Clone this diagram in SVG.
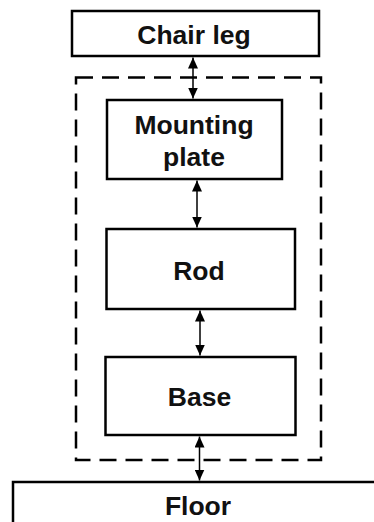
<svg xmlns="http://www.w3.org/2000/svg" width="374" height="522" viewBox="0 0 374 522">
  <style>
    .box { fill: #ffffff; stroke: #000000; stroke-width: 2.5; }
    .group { fill: none; stroke: #000000; stroke-width: 2.5; stroke-dasharray: 17 9; }
    .label { font-family: "Liberation Sans", Arial, sans-serif; font-weight: bold; font-size: 26.5px; fill: #111111; text-anchor: middle; }
    .link { stroke: #000000; stroke-width: 1.5; fill: none; marker-start: url(#head); marker-end: url(#head); }
  </style>
  <defs>
    <marker id="head" viewBox="0 0 11 10" refX="11" refY="5" markerWidth="11" markerHeight="10" markerUnits="userSpaceOnUse" orient="auto-start-reverse">
      <path d="M0,0 L11,5 L0,10 Z" fill="#000000"/>
    </marker>
  </defs>
  <rect width="374" height="522" fill="#ffffff"/>

  <!-- dashed enclosure around the assembly -->
  <rect id="assembly" class="group" x="76" y="77.5" width="245" height="382.5"/>

  <g id="chair-leg">
    <rect class="box" x="72" y="11" width="247" height="45"/>
    <text class="label" x="194" y="44">Chair leg</text>
  </g>

  <g id="mounting-plate">
    <rect class="box" x="107" y="100" width="175" height="79"/>
    <text class="label" x="194" y="134">Mounting</text>
    <text class="label" x="194" y="166">plate</text>
  </g>

  <g id="rod">
    <rect class="box" x="106.5" y="229" width="188.5" height="80"/>
    <text class="label" x="199" y="280">Rod</text>
  </g>

  <g id="base">
    <rect class="box" x="105.5" y="357" width="190" height="78"/>
    <text class="label" x="199.5" y="406">Base</text>
  </g>

  <g id="floor">
    <rect class="box" x="13" y="482" width="370" height="50"/>
    <text class="label" x="198" y="515">Floor</text>
  </g>

  <g id="connectors">
    <line class="link" x1="193" y1="57.5" x2="193" y2="98.5"/>
    <line class="link" x1="197" y1="180.5" x2="197" y2="227.5"/>
    <line class="link" x1="200" y1="310.5" x2="200" y2="355.5"/>
    <line class="link" x1="199.5" y1="436.5" x2="199.5" y2="480.5"/>
  </g>
</svg>
